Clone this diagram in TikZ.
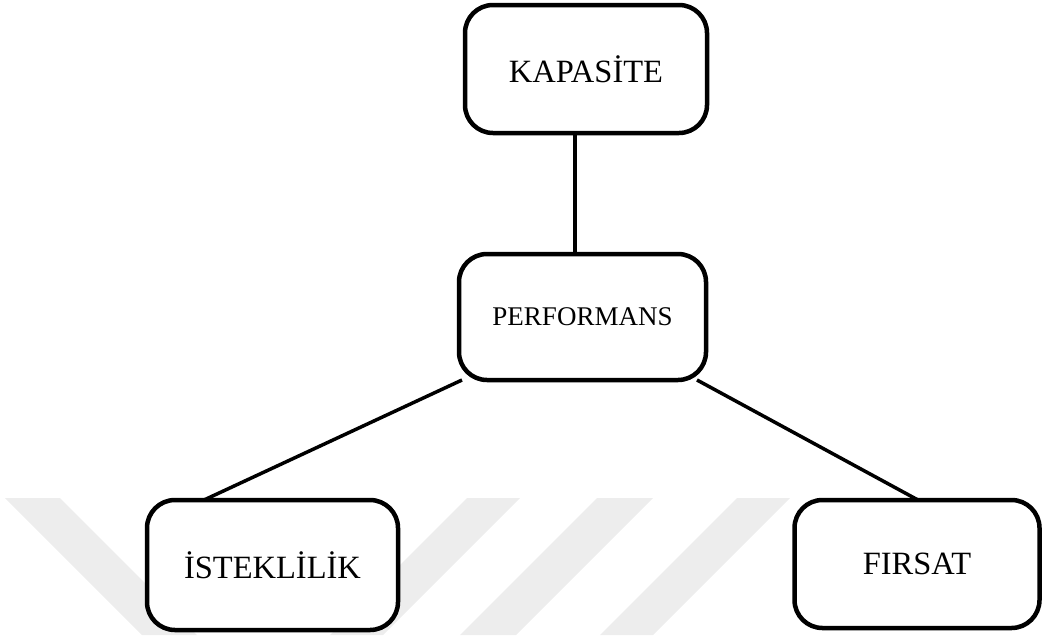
\documentclass[tikz,border=0pt]{standalone}
\usepackage{fontspec}
\setmainfont{Liberation Serif}
\begin{document}
\begin{tikzpicture}[x=1pt,y=-1pt,
  box/.style={draw=black,line width=4.5pt,rounded corners=28pt,fill=white,
    inner sep=0pt,font=\fontsize{32.5}{38}\selectfont},
  link/.style={draw=black,line width=3.5pt}]
\useasboundingbox (0,0) rectangle (1043,635);
% faint background stripes
\fill[black!7] (5,498) -- (60,498) -- (197,635) -- (142,635) -- cycle;
\fill[black!7] (467,498) -- (520,498) -- (383,635) -- (330,635) -- cycle;
\fill[black!7] (597,498) -- (653,498) -- (516,635) -- (460,635) -- cycle;
\fill[black!7] (737,498) -- (790,498) -- (653,635) -- (600,635) -- cycle;
% boxes
\node[box,minimum width=242pt,minimum height=128pt] (kap) at (586,69) {KAPASİTE};
\node[box,minimum width=247pt,minimum height=126pt,font=\fontsize{27}{32}\selectfont] (perf) at (582.5,317) {PERFORMANS};
\node[box,minimum width=251pt,minimum height=130pt] (ist) at (272.5,565) {İSTEKLİLİK};
\node[box,minimum width=245pt,minimum height=128pt] (fir) at (917,564) {FIRSAT};
% attachment points on the borders
\coordinate (kb) at (575,133);
\coordinate (pt) at (575,254);
\coordinate (pl) at (462,380);
\coordinate (pr) at (697,380);
\coordinate (it) at (204,500);
\coordinate (ft) at (918,500);
% connectors
\draw[link] (kb) -- (pt);
\draw[link] (pl) -- (it);
\draw[link] (pr) -- (ft);
\end{tikzpicture}
\end{document}
